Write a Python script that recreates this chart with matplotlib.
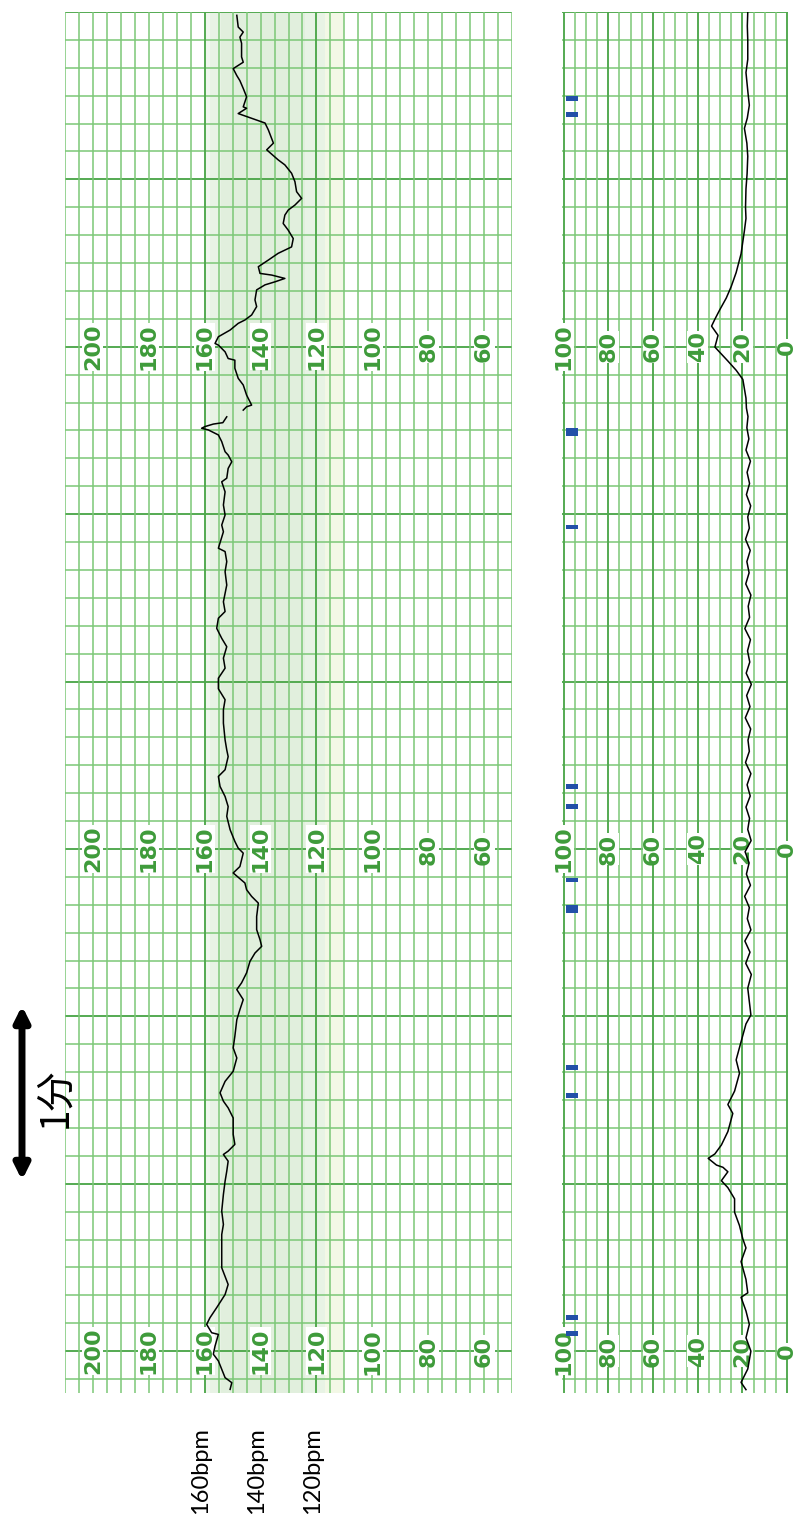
import numpy as np
import matplotlib.pyplot as plt
from matplotlib.patches import FancyArrowPatch

# time runs upward, seconds; 0 = first labelled minute line
fhr_t = [-13.7, -11.3, -9.5, -6.5, -3.5, -1.1, 1.8, 6.0, 6.6, 9.6, 12.0, 15.6, 20.3, 23.9,
         29.9, 35.9, 41.8, 45.4, 50.2, 56.2, 60.9, 64.5, 68.1, 70.5, 71.7, 74.1, 77.7, 83.6,
         87.2, 89.6, 92.6, 96.7, 100.3, 105.1, 108.7, 112.9, 118.8, 122.4, 126.0, 129.6,
         132.0, 135.6, 139.7, 142.7, 145.1, 147.5, 151.1, 155.8, 160.6, 163.0, 165.4, 167.8,
         171.4, 173.7, 178.5, 180.3, 182.7, 186.9, 191.7, 195.2, 198.8, 202.4, 206.0, 208.4,
         213.1, 215.5, 219.1, 225.1, 229.9, 233.5, 237.4, 241.2, 244.8, 248.4, 252.5, 255.5,
         259.1, 262.7, 265.1, 268.6, 274.6, 279.4, 283.0, 286.6, 287.8, 293.7, 296.1, 299.7,
         303.3, 308.0, 311.6, 312.9, 316.4, 318.8, 321.2, 322.4, 326.0, 328.4, 330.2, 330.8,
         331.4, 332.3, 332.8, 334.9, np.nan,
         337.3, 338.5, 339.1, 342.7, 346.3, 348.7, 352.3, 355.2, 355.8, 358.2, 360.6, 361.2,
         363.6, 366.0, 368.4, 369.6, 371.4, 374.4, 376.8, 380.4, 382.2, 383.3, 384.5, 385.7,
         386.3, 388.7, 391.1, 393.5, 395.8, 398.8, 401.8, 404.2, 407.2, 409.0, 410.8, 413.2,
         415.6, 419.2, 422.2, 425.2, 427.0, 430.6, 433.0, 437.7, 440.2, 441.9, 443.6, 445.5,
         446.0, 449.6, 452.6, 455.4, 457.2, 459.7, 462.0, 463.9, 468.8, 471.0, 472.8, 474.6,
         478.8]
fhr_bpm = [150.9, 150.3, 152.7, 153.9, 155.1, 156.9, 156.3, 155.1, 157.5, 159.3, 158.1, 155.7,
           152.7, 151.6, 153.9, 153.9, 153.9, 153.3, 153.9, 153.3, 152.7, 152.1, 151.6, 153.3,
           151.6, 149.2, 149.8, 149.8, 151.6, 153.3, 154.5, 152.7, 149.8, 148.5, 149.8, 149.2,
           148.5, 147.4, 146.2, 148.5, 146.8, 145.0, 143.8, 142.0, 139.6, 140.2, 141.4, 141.4,
           140.8, 143.2, 145.0, 145.6, 149.8, 147.4, 146.2, 148.0, 149.2, 150.9, 152.1, 151.6,
           152.7, 154.5, 155.1, 152.7, 151.6, 152.1, 152.7, 153.3, 153.3, 152.7, 155.1, 155.1,
           152.7, 153.3, 152.1, 153.9, 155.7, 155.1, 152.7, 153.3, 152.1, 152.7, 152.1, 152.7,
           155.1, 153.3, 153.9, 152.7, 153.3, 152.7, 153.9, 152.1, 151.6, 150.3, 151.6, 152.7,
           153.9, 155.1, 158.7, 161.1, 159.9, 156.9, 153.5, 152.1, np.nan,
           146.2, 145.0, 143.2, 145.0, 146.2, 148.0, 149.2, 149.2, 151.6, 152.7, 155.1, 156.3,
           155.1, 150.9, 148.0, 145.6, 143.2, 141.4, 142.0, 141.4, 138.4, 134.8, 131.3, 136.0,
           140.2, 140.8, 137.2, 133.7, 128.9, 128.3, 130.1, 131.9, 131.3, 130.1, 127.7, 125.3,
           127.1, 127.7, 128.9, 131.3, 133.7, 137.8, 135.4, 137.2, 138.4, 143.2, 148.0, 145.0,
           146.2, 145.0, 146.2, 147.4, 148.5, 149.8, 146.2, 146.8, 146.8, 147.4, 146.2, 148.0,
           148.5]

ua_t = [-13.8, -11.2, -6.4, 0.0, 4.8, 9.6, 14.4, 19.3, 20.9, 25.7, 32.1, 37.0, 40.2, 45.0,
        49.8, 54.6, 58.6, 61.1, 64.3, 65.9, 66.7, 69.1, 70.7, 73.9, 78.7, 85.2, 88.4, 93.2,
        99.6, 104.4, 110.9, 117.3, 120.5, 130.1,
        135, 139, 143, 147, 151, 155, 159, 163, 167, 171, 175, 179, 183, 187, 191, 195, 199,
        203, 207, 211, 215, 219, 223, 227, 231, 235, 239, 243, 247, 251, 255, 259, 263, 267,
        271, 275, 279, 283, 287, 291, 295, 299, 303, 307, 311, 315, 319, 323, 327, 331, 335,
        338,
        341.6, 348.3, 351.6, 354.9, 357.4, 359.9, 364.1, 367.4, 369.9, 373.3, 377.5, 381.6,
        386.6, 393.3, 401.6, 406, 410, 416.6, 422, 428.3, 433, 438.3, 442, 446.6, 451, 458.3,
        463, 470, 475, 480]
ua_val = [18.4, 20.6, 17.6, 16.2, 18.4, 16.9, 18.4, 20.6, 17.6, 18.4, 20.6, 18.4, 19.8, 21.3,
          23.5, 23.5, 26.5, 29.4, 26.5, 28.7, 31.6, 35.3, 32.3, 29.4, 26.5, 24.3, 26.5, 23.5,
          21.3, 22.8, 20.6, 18.4, 16.2, 17.6,
          16.0, 18.5, 16.6, 18.9, 16.2, 17.8, 16.9, 19.0, 16.4, 18.2, 17.0, 18.8, 16.1, 17.6,
          16.8, 18.4, 16.5, 17.9, 16.2, 18.6, 16.9, 17.5, 16.3, 18.7, 16.6, 18.1, 16.0, 18.3,
          16.7, 17.7, 16.4, 18.9, 16.8, 17.4, 16.2, 18.5, 17.0, 18.0, 16.5, 18.6, 16.9, 17.6,
          16.3, 18.2, 16.8, 17.9, 16.4, 18.4, 17.1, 18.0, 17.5, 18.2,
          18.4, 19.8, 22.8, 26.5, 29.4, 32.3, 30.9, 33.8, 32.3, 30.1, 27.2, 25.0,
          22.8, 20.6, 19.1, 18.4, 18.6, 18.4, 17.9, 17.6, 18.0, 19.1, 17.8, 16.9, 17.5, 18.4,
          17.6, 17.6, 17.8, 17.6]

# fetal movement marks: start time (s) and length (s)
mark_t = [5.5, 11.3, 90.9, 100.6, 157.0, 168.0, 194.3, 201.6, 294.8, 328.0, 442.4, 448.1]
mark_len = [1.8, 1.8, 1.8, 1.8, 3.0, 1.5, 1.8, 1.8, 1.5, 3.0, 1.8, 1.8]

fhr_ticks = [200, 180, 160, 140, 120, 100, 80, 60]
ua_ticks = [100, 80, 60, 40, 20, 0]
label_rows = [0, 180, 360]
bpm_notes = ['160bpm', '140bpm', '120bpm']

grid_c = '#7cc777'
dark_c = '#45a043'
text_c = '#3e9b3a'

fig = plt.figure(figsize=(7.95, 15.26), dpi=100)
H = 1526
ax1 = fig.add_axes([65 / 795, (H - 1393) / H, 447 / 795, (1393 - 12) / H])
ax2 = fig.add_axes([562 / 795, (H - 1393) / H, 226 / 795, (1393 - 12) / H])

ax1.set_xlim(210, 50)
ax2.set_xlim(100.7, -0.4)
for ax in (ax1, ax2):
    ax.set_ylim(-15, 480)
    ax.set_xticks([])
    ax.set_yticks([])
    for s in ax.spines.values():
        s.set_visible(False)
    ax.hlines(np.arange(-10, 481, 10), 0, 1, transform=ax.get_yaxis_transform(),
              color=grid_c, lw=1.1, zorder=1)
    ax.hlines(np.arange(0, 481, 60), 0, 1, transform=ax.get_yaxis_transform(),
              color=dark_c, lw=1.1, zorder=1)

# normal band shading, fading toward its edges
ax1.axvspan(110, 160, color='#f0f7ee', lw=0, zorder=0)
ax1.axvspan(116, 158, color='#e8f3e5', lw=0, zorder=0)
ax1.axvspan(124, 154, color='#e1efdd', lw=0, zorder=0)
ax1.axvspan(110, 117, color='#f3f8e6', lw=0, zorder=0)

ax1.vlines(np.arange(50, 211, 5), 0, 1, transform=ax1.get_xaxis_transform(),
           color=grid_c, lw=1.1, zorder=1)
ax1.vlines([160, 120], 0, 1, transform=ax1.get_xaxis_transform(),
           color=dark_c, lw=1.1, zorder=1)
ax2.vlines(np.arange(0, 101, 5), 0, 1, transform=ax2.get_xaxis_transform(),
           color=grid_c, lw=1.1, zorder=1)
ax2.vlines(np.arange(0, 101, 20), 0, 1, transform=ax2.get_xaxis_transform(),
           color=dark_c, lw=1.1, zorder=1)

lab_kw = dict(rotation=90, ha='center', va='center', color=text_c, fontsize=16,
              fontweight='bold', family=['Liberation Sans Narrow', 'DejaVu Sans'],
              zorder=3, clip_on=False,
              bbox=dict(facecolor='white', edgecolor='none', pad=0.3))
for r in label_rows:
    for v in fhr_ticks:
        ax1.text(v, r, str(v), **lab_kw)
    for v in ua_ticks:
        ax2.text(v, r, str(v), **lab_kw)

ax1.plot(fhr_bpm, fhr_t, color='black', lw=1.1, zorder=4)
ax2.plot(ua_val, ua_t, color='black', lw=1.1, zorder=4)
ax2.barh(mark_t, 5.5, height=mark_len, left=93.5, align='edge', color='#2250a8', zorder=5)

# 1 minute scale arrow
fig.add_artist(FancyArrowPatch((22 / 795, 1 - 1003 / H), (22 / 795, 1 - 1183 / H),
                               transform=fig.transFigure, arrowstyle='<|-|>',
                               mutation_scale=22, lw=5, color='black'))
fig.text(55 / 795, 1 - 1098 / H, '1分', rotation=90, ha='center', va='center', fontsize=28,
         family=['Noto Sans CJK JP', 'DejaVu Sans'])

for note, v in zip(bpm_notes, [160, 140, 120]):
    x_fig = (65 + (210 - v) * 447 / 160 - 4) / 795
    fig.text(x_fig, 1 - 1471 / H, note, rotation=90, ha='center', va='center', fontsize=17,
             family=['Lato', 'DejaVu Sans'])

fig.savefig('out.png', dpi=100)
